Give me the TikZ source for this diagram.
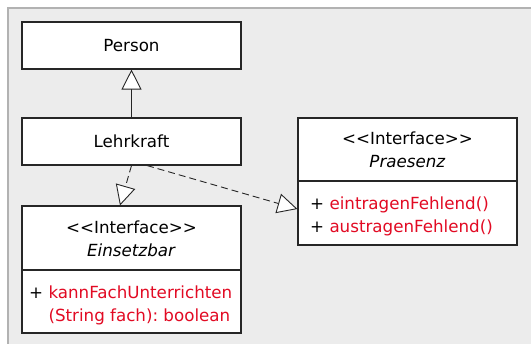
\documentclass[tikz,border=0pt]{standalone}
\usepackage{fontspec}
\setmainfont{DejaVu Sans}
\usepackage{tikz}
\usetikzlibrary{arrows.meta, positioning}
\usepackage{xcolor}
\definecolor{umlred}{RGB}{226, 10, 35}
\definecolor{panelgray}{RGB}{236, 236, 236}
\definecolor{panelline}{RGB}{178, 178, 178}
\newcommand{\stereo}[1]{{<}{<}#1{>}{>}}
\frenchspacing

\begin{document}
\begin{tikzpicture}[
        x=1pt, y=-1pt,
        umlfont/.style={font=\fontsize{16.7}{23}\selectfont},
        cls/.style={draw=black!85, fill=white, line width=1.1pt,
                    minimum width=219pt, inner sep=0pt},
        txt/.style={umlfont, inner sep=0pt},
        gen/.style={-{Triangle[length=20pt, width=20pt, fill=white]},
                    line width=0.9pt, draw=black!85},
        real/.style={gen, dash pattern=on 7pt off 4pt},
      ]
        \useasboundingbox (0,0) rectangle (531,344);
        % panel
        \fill[panelgray] (8,8) rectangle (531,344);
        \draw[panelline, line width=2pt] (8,344) -- (8,8) -- (531,8);

        % classes
        \node[cls, minimum height=47pt, umlfont] (person) at (131.5,45.5) {Person};
        \node[cls, minimum height=47pt, umlfont] (lehrkraft) at (131.5,141.5) {Lehrkraft};
        \node[cls, minimum height=127pt] (einsetzbar) at (131.5,269.5) {};
        \node[cls, minimum height=127pt] (praesenz) at (407.5,181.5) {};

        % interface Einsetzbar
        \draw[black!85, line width=1.1pt] (einsetzbar.west |- 0,270) -- (einsetzbar.east |- 0,270);
        \node[txt, align=center] (einsHead) at (131.5,239)
          {\stereo{Interface}\\\textit{Einsetzbar}};
        \node[txt, align=left, anchor=west] (einsOps) at (29,305)
          {+ \textcolor{umlred}{kannFachUnterrichten}\\
           \hphantom{+ }\textcolor{umlred}{(String fach): boolean}};

        % interface Praesenz
        \draw[black!85, line width=1.1pt] (praesenz.west |- 0,181) -- (praesenz.east |- 0,181);
        \node[txt, align=center] (praesHead) at (407.5,150)
          {\stereo{Interface}\\\textit{Praesenz}};
        \node[txt, align=left, anchor=west] (praesOps) at (310,216)
          {+ \textcolor{umlred}{eintragenFehlend()}\\
           + \textcolor{umlred}{austragenFehlend()}};

        % relations
        \draw[gen] (lehrkraft.north) -- (person.south);
        \draw[real] (lehrkraft.south) -- ([xshift=-11.5pt]einsetzbar.north);
        \draw[real] ([xshift=15.5pt]lehrkraft.south) -- ([yshift=-27.5pt]praesenz.west);
      \end{tikzpicture}
\end{document}
